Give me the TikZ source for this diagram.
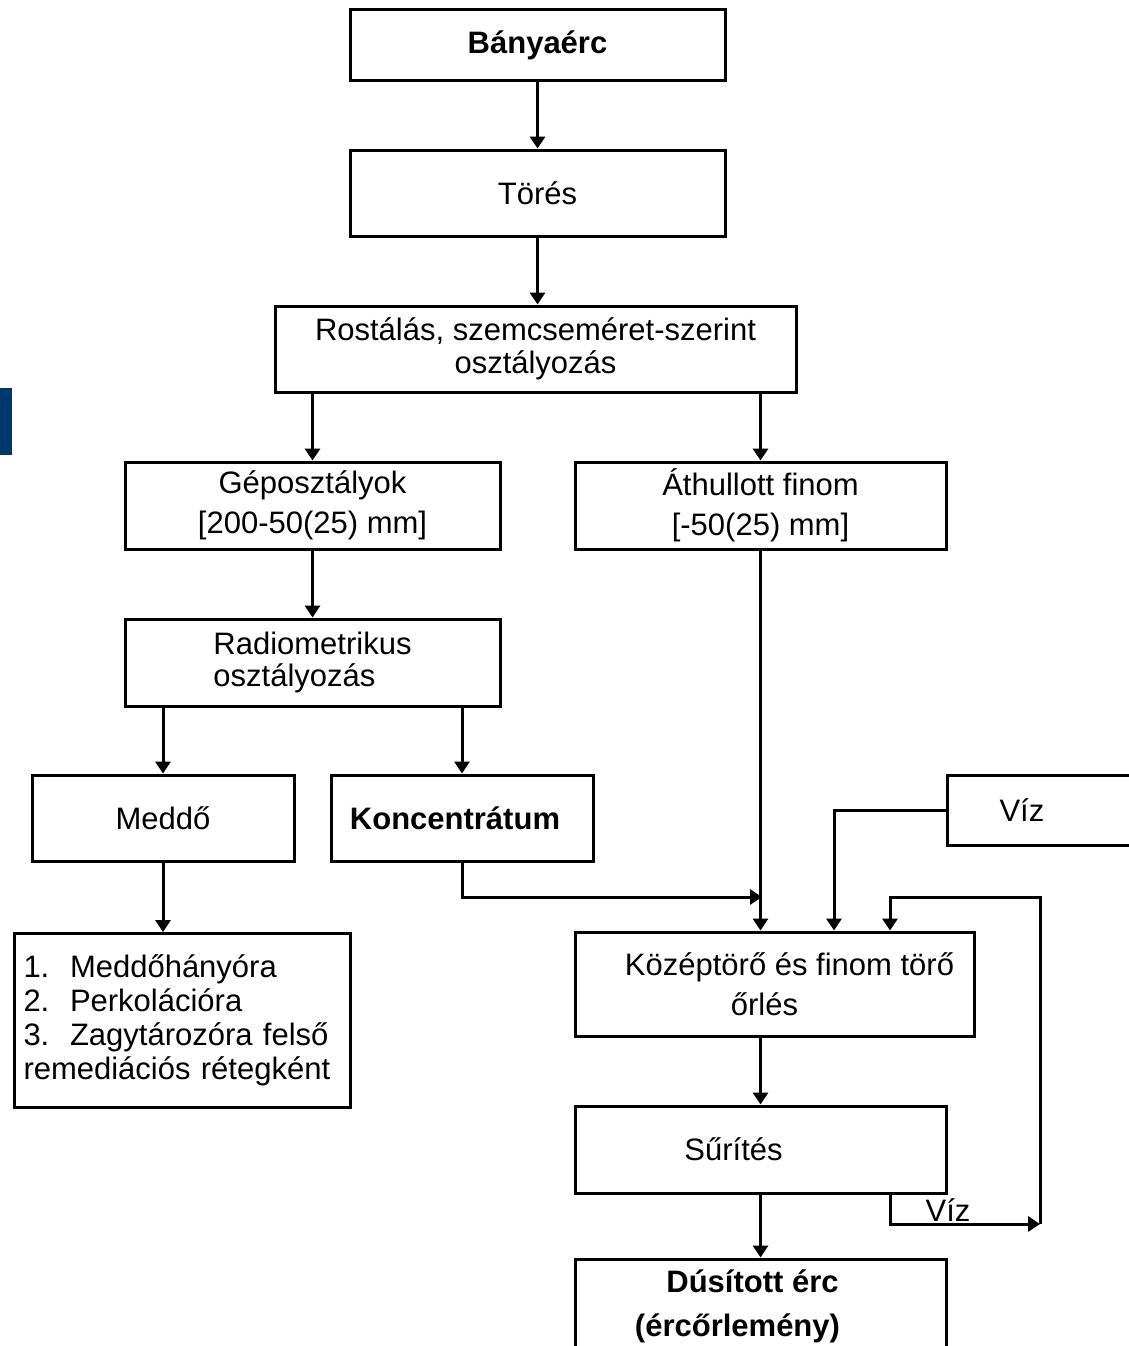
\documentclass[tikz,border=0pt]{standalone}
\usepackage{fontspec}
\setmainfont{Liberation Sans}
\usetikzlibrary{arrows.meta}
\definecolor{barblue}{RGB}{0,56,110}

\begin{document}
\begin{tikzpicture}[x=1pt, y=-1pt, line width=3pt]
\tikzset{every node/.style={font=\fontsize{31}{37}\selectfont},
  box/.style={draw, line width=3pt, inner sep=0pt, align=center},
  arr/.style={-{Triangle[length=12pt,width=15pt]}}}
\useasboundingbox (0, 0) rectangle (1129, 1346);

% Side mark
\fill[barblue] (0, 388) rectangle (12, 455);

% Nodes for the main line
\node[box, minimum width=375, minimum height=70] at (537.5, 45) (banya) {\textbf{Bányaérc}};
\node[box, minimum width=375, minimum height=86] at (537.5, 193) (tores) {Törés};
\node[box, minimum width=521, minimum height=86] at (535.5, 349) (rost) {Rostálás, szemcseméret-szerint\\[-4pt] osztályozás};

% Nodes for the two fractions
\node[box, minimum width=375, minimum height=87] at (312.5, 505.5) (gep) {Géposztályok\\[3pt] [200-50(25) mm]};
\node[box, minimum width=371, minimum height=87] at (760.5, 505.5) (athull) {Áthullott finom\\[3pt] [-50(25) mm]};
\node[box, minimum width=375, minimum height=87, align=left] at (312.5, 662.5) (radio) {Radiometrikus\\[-5pt] osztályozás};
\node[box, minimum width=262, minimum height=86] at (163, 818) (meddo) {Meddő};
\node[box, minimum width=262, minimum height=86] at (462, 818) (konc) {\textbf{Koncentrátum}\hspace*{14pt}};
\node[box, anchor=north west, minimum height=174, text width=318, inner xsep=9pt, align=left,
  font=\fontsize{31}{34}\selectfont] at (13, 932) (lista) {1.\ \ Meddőhányóra\\ 2.\ \ Perkolációra\\ 3.\ \ Zagytározóra felső\\ remediációs rétegként};

% Nodes for grinding
\node[box, anchor=west, minimum height=70, text width=150, inner xsep=52pt, align=left] at (946, 810) (viz) {Víz};
\node[box, minimum width=399, minimum height=104] at (774.5, 984) (kozep) {\hspace*{30pt}Középtörő és finom törő\\[3pt] őrlés\hspace*{20pt}};
\node[box, minimum width=371, minimum height=87] at (760.5, 1149.5) (surit) {Sűrítés\hspace*{54pt}};
\node[box, minimum width=371, minimum height=94] at (760.5, 1306) (dus) {\textbf{Dúsított érc}\hspace*{16pt}\\[7pt] \textbf{(ércőrlemény)}\hspace*{46pt}};
\node at (948, 1210) (vizvissza) {Víz};

% Helper points
\coordinate (join) at (762, 897);
\coordinate (vizx) at (834, 0);
\coordinate (rec1) at (890, 1190);
\coordinate (rec2) at (1040, 1224);
\coordinate (rec3) at (890, 897);

% Lines for the main line
\draw[arr] (banya) -- (tores);
\draw[arr] (tores.south) -- (tores.south |- rost.north);
\draw[arr] (rost.south -| gep.north) -- (gep.north);
\draw[arr] (rost.south -| athull.north) -- (athull.north);

% Lines for the coarse fraction
\draw[arr] (gep) -- (radio);
\draw[arr] (radio.south -| meddo.north) -- (meddo.north);
\draw[arr] (radio.south -| konc.north) -- (konc.north);
\draw[arr] (meddo.south) -- (meddo.south |- lista.north);
\draw[arr] (konc.south) |- (join);

% Lines for grinding
\draw[arr] (athull.south) -- (athull.south |- kozep.north);
\draw[arr] (viz.west) -| (kozep.north -| vizx);
\draw[arr] (kozep.south -| surit.north) -- (surit.north);
\draw[arr] (surit.south -| dus.north) -- (dus.north);

% Lines for water back
\draw[arr] (surit.south -| rec1) |- (rec2);
\draw[arr] (rec2) |- (rec3) -- (kozep.north -| rec3);
\end{tikzpicture}
\end{document}
